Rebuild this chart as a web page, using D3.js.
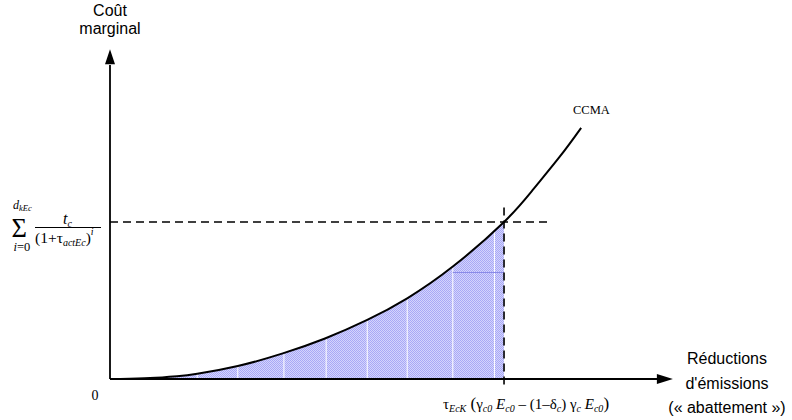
<!DOCTYPE html>
<html>
<head>
<meta charset="utf-8">
<script src="https://cdn.jsdelivr.net/npm/d3@7"></script>
<style>
  html, body { margin: 0; padding: 0; background: #fff; }
  svg { display: block; }
</style>
</head>
<body>
<svg id="chart" width="792" height="420"></svg>
<script>
// Marginal abatement cost curve (CCMA): abatement quantity vs marginal cost
const abatement    = [1.8, 7.1, 11.9, 15.5, 22.7, 30.7, 38.2, 45.7, 52.8, 60.9, 70, 75.1, 79.9, 83.7];
const marginalCost = [0, 0.29, 0.89, 1.66, 4.14, 8.15, 12.9, 18.8, 25.7, 35.8, 50, 60.2, 70.8, 80.0];

// Optimal abatement level and the matching discounted tax
const optimumQ = 70;
const optimumCost = 50;

// Hatch separators inside the shaded total-cost area
const hatchX = [15.5, 22.7, 30.9, 38.4, 45.7, 52.8, 60.9, 68.3];
const innerLevel = { from: 60.9, to: 70, cost: 34.2 };

const xTitle = ["Réductions", "d'émissions", "(« abattement »)"];
const yTitle = ["Coût", "marginal"];
const curveLabel = "CCMA";
const originLabel = "0";

const serif = "'Liberation Serif', 'Times New Roman', serif";
const sans = "'Liberation Sans', Arial, sans-serif";

const svg = d3.select("#chart");
const x = d3.scaleLinear().domain([0, 100]).range([110, 672.9]);
const y = d3.scaleLinear().domain([0, 105]).range([379, 49.3]);

const defs = svg.append("defs");
const pat = defs.append("pattern").attr("id", "dots")
  .attr("patternUnits", "userSpaceOnUse").attr("width", 2).attr("height", 2);
pat.append("rect").attr("width", 2).attr("height", 2).attr("fill", "#d4d4fc");
pat.append("rect").attr("x", 0).attr("y", 0).attr("width", 1).attr("height", 1).attr("fill", "#a8a8f6");
pat.append("rect").attr("x", 1).attr("y", 1).attr("width", 1).attr("height", 1).attr("fill", "#a8a8f6");

const pts = abatement.map((a, i) => [a, marginalCost[i]]);

const area = d3.area()
  .x(d => x(d[0])).y0(y(0)).y1(d => y(d[1]))
  .curve(d3.curveNatural);
const line = d3.line()
  .x(d => x(d[0])).y(d => y(d[1]))
  .curve(d3.curveNatural);

// clip: under the curve and left of the optimum
defs.append("clipPath").attr("id", "leftOfQ")
  .append("rect").attr("x", x(0)).attr("y", 0)
  .attr("width", x(optimumQ) - x(0)).attr("height", y(0));
defs.append("clipPath").attr("id", "underCurve")
  .append("path").attr("d", area(pts));

const shade = svg.append("g").attr("clip-path", "url(#leftOfQ)")
  .append("g").attr("clip-path", "url(#underCurve)");
shade.append("rect")
  .attr("x", x(0)).attr("y", y(105))
  .attr("width", x(optimumQ) - x(0)).attr("height", y(0) - y(105))
  .attr("fill", "url(#dots)");
shade.selectAll("line.hatch").data(hatchX).join("line")
  .attr("class", "hatch")
  .attr("x1", d => x(d)).attr("x2", d => x(d))
  .attr("y1", y(0)).attr("y2", y(105))
  .attr("stroke", "#fff").attr("stroke-width", 1);
shade.append("line")
  .attr("x1", x(innerLevel.from)).attr("x2", x(innerLevel.to))
  .attr("y1", Math.round(y(innerLevel.cost)) + 0.5).attr("y2", Math.round(y(innerLevel.cost)) + 0.5)
  .attr("stroke", "#8a8ae8").attr("stroke-width", 1);

// dashed guides at the optimum
svg.append("line")
  .attr("x1", x(0)).attr("x2", x(78.5))
  .attr("y1", y(optimumCost)).attr("y2", y(optimumCost))
  .attr("stroke", "#000").attr("stroke-width", 1.6).attr("stroke-dasharray", "8,5");
svg.append("line")
  .attr("x1", x(optimumQ)).attr("x2", x(optimumQ))
  .attr("y1", y(54.6)).attr("y2", y(-2.2))
  .attr("stroke", "#000").attr("stroke-width", 1.6).attr("stroke-dasharray", "8,5");

// CCMA curve
svg.append("path").attr("d", line(pts))
  .attr("fill", "none").attr("stroke", "#000").attr("stroke-width", 2);

// axes with arrowheads
const ax = svg.append("g").attr("fill", "#000").attr("stroke", "#000");
ax.append("line").attr("x1", x(0)).attr("x2", x(98)).attr("y1", y(0)).attr("y2", y(0)).attr("stroke-width", 1.8);
ax.append("line").attr("x1", x(0)).attr("x2", x(0)).attr("y1", y(0)).attr("y2", y(100)).attr("stroke-width", 1.8);
ax.append("path").attr("stroke", "none")
  .attr("d", `M${x(100)},${y(0)} L${x(100) - 16},${y(0) - 5} L${x(100) - 16},${y(0) + 5} Z`);
ax.append("path").attr("stroke", "none")
  .attr("d", `M${x(0)},${y(105)} L${x(0) - 5},${y(105) + 15} L${x(0) + 5},${y(105) + 15} Z`);

// axis titles
svg.append("g").selectAll("text").data(yTitle).join("text")
  .attr("x", x(0)).attr("y", (d, i) => 16 + i * 18)
  .attr("text-anchor", "middle").attr("font-family", sans).attr("font-size", 16)
  .text(d => d);
svg.append("g").selectAll("text").data(xTitle).join("text")
  .attr("x", 727).attr("y", (d, i) => 364 + i * 24.5)
  .attr("text-anchor", "middle").attr("font-family", sans).attr("font-size", 16)
  .text(d => d);

svg.append("text").attr("x", 573).attr("y", 114)
  .attr("font-family", serif).attr("font-size", 12.5).text(curveLabel);
svg.append("text").attr("x", 95).attr("y", 400).attr("text-anchor", "middle")
  .attr("font-family", serif).attr("font-size", 14).text(originLabel);

// typeset a formula from parts with sub/superscript shifts
function formula(px, py, size, parts) {
  const t = svg.append("text").attr("x", px).attr("y", py)
    .attr("font-family", serif).attr("font-size", size);
  let cur = 0;
  parts.forEach(p => {
    const shift = p.shift || 0;
    t.append("tspan")
      .attr("dy", shift - cur)
      .attr("font-size", p.size || size)
      .attr("font-style", p.it ? "italic" : "normal")
      .text(p.t);
    cur = shift;
  });
  return t;
}

// discounted sum on the cost axis: limits stacked around the sigma in one text block
const sumText = svg.append("text").attr("font-family", serif);
sumText.append("tspan").attr("x", 13).attr("y", 209).attr("font-size", 12).attr("font-style", "italic").text("d");
sumText.append("tspan").attr("dy", 2).attr("font-size", 8.5).attr("font-style", "italic").text("kEc");
sumText.append("tspan").attr("x", 11.5).attr("y", 236.5).attr("font-size", 26.5).text("\u03A3");
sumText.append("tspan").attr("x", 13.5).attr("y", 250.5).attr("font-size", 12.5).attr("font-style", "italic").text("i");
sumText.append("tspan").attr("font-size", 12.5).text("=0");

svg.append("line").attr("x1", 35).attr("x2", 101).attr("y1", 227.5).attr("y2", 227.5)
  .attr("stroke", "#000").attr("stroke-width", 1);
formula(63, 224, 16, [{ t: "t", it: true }, { t: "c", it: true, size: 10, shift: 3 }]);
formula(35, 243, 15.5, [
  { t: "(1+\u03C4" },
  { t: "actEc", it: true, size: 10, shift: 3 },
  { t: ")" },
  { t: "i", it: true, size: 10, shift: -8 }
]);

// optimal abatement on the quantity axis
formula(443, 409, 15, [
  { t: "\u03C4" },
  { t: "EcK", it: true, size: 10, shift: 3 },
  { t: " (", size: 17 },
  { t: "\u03B3" },
  { t: "c0", it: true, size: 10, shift: 3 },
  { t: " E", it: true },
  { t: "c0", it: true, size: 10, shift: 3 },
  { t: " \u2013 (1\u2013\u03B4" },
  { t: "c", it: true, size: 10, shift: 3 },
  { t: ") \u03B3" },
  { t: "c", it: true, size: 10, shift: 3 },
  { t: " E", it: true },
  { t: "c0", it: true, size: 10, shift: 3 },
  { t: ")", size: 17 }
]);
</script>
</body>
</html>
